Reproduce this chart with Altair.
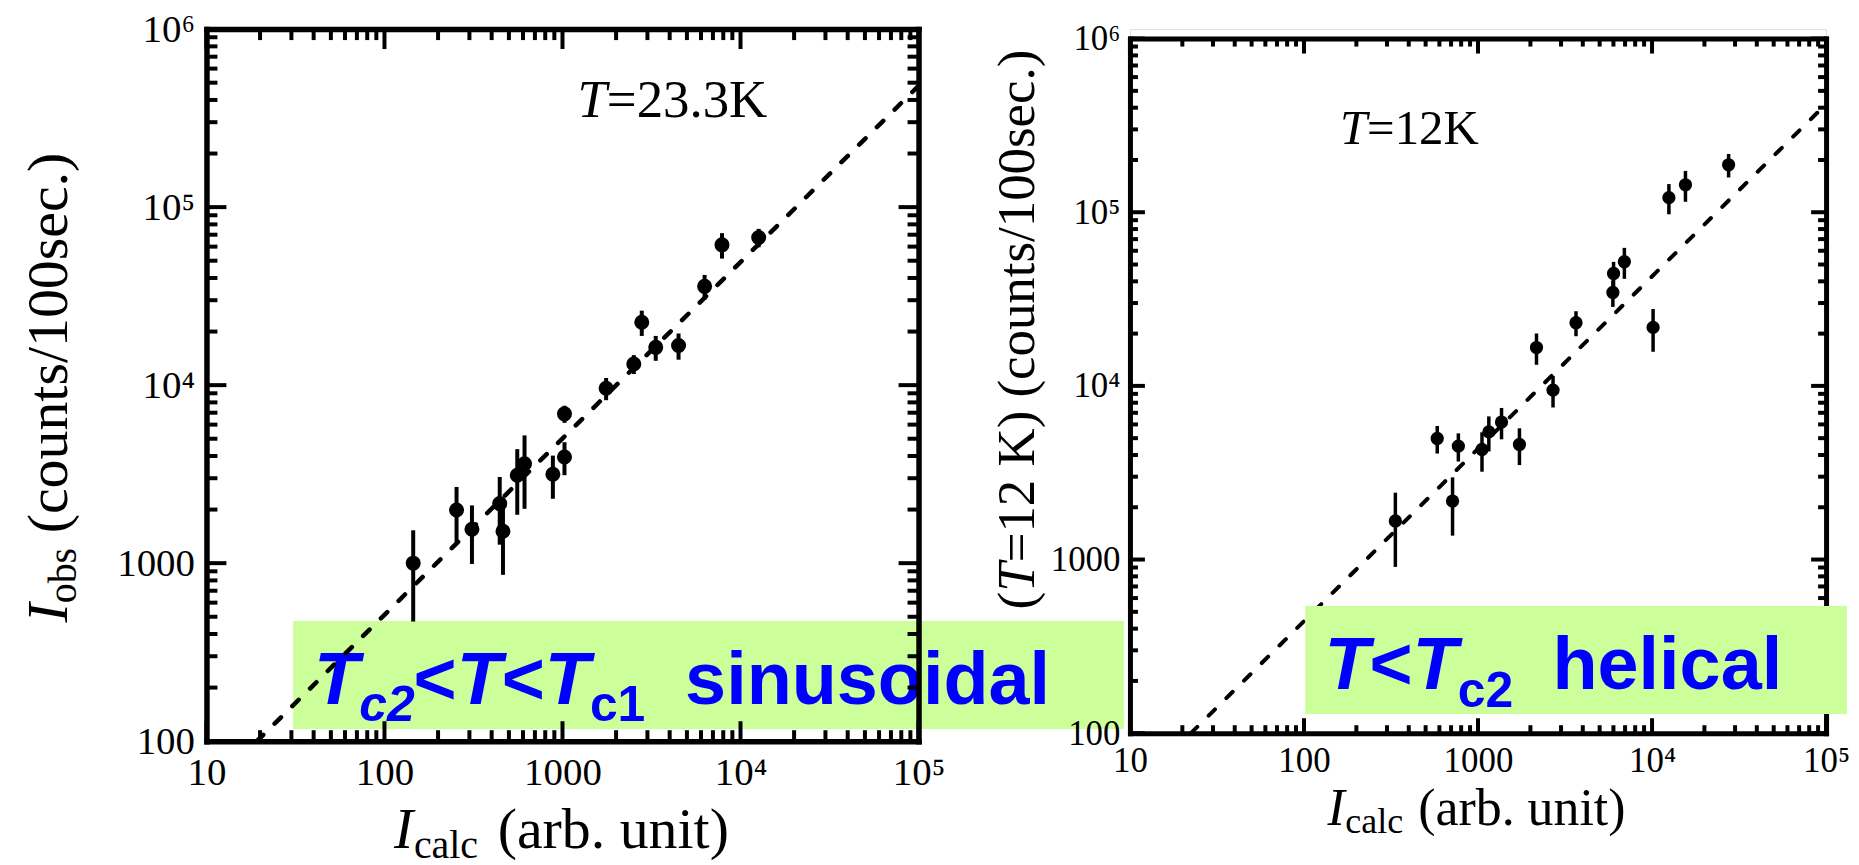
import altair as alt
import pandas as pd

SERIF = "Liberation Serif"
SANS = "Liberation Sans"

# ---------------- data ----------------
# left panel, T = 23.3 K
left_icalc = [145, 254, 310, 444, 463, 557, 612, 883, 1026, 1026,
              1758, 2515, 2788, 3340, 4487, 6285, 7870, 12650]
left_iobs = [1000, 1990, 1550, 2160, 1510, 3120, 3620, 3160, 3950, 6900,
             9600, 13150, 22550, 16300, 16700, 35900, 61400, 67500]
left_err = [530, 690, 560, 890, 650, 1250, 1600, 860, 830, 760,
            1370, 1600, 3650, 2600, 2800, 5700, 10000, 8000]
left_fit_x = [19.2, 100000]
left_fit_y = [100, 480000]

# right panel, T = 12 K
right_icalc = [335, 583, 714, 771, 1054, 1154, 1365, 1730, 2168, 2698,
               3656, 5956, 6010, 6934, 10140, 12500, 15560, 27540]
right_iobs = [1667, 4978, 2173, 4500, 4305, 5433, 6194, 4600, 16630, 9460,
              23120, 34500, 44380, 51860, 21720, 121300, 143900, 187600]
right_err = [760, 900, 800, 830, 1100, 1240, 1270, 1100, 3400, 1950,
             3800, 6000, 7400, 10500, 6000, 24000, 29000, 29000]
right_fit_x = [22.4, 100000]
right_fit_y = [100, 420000]

# axes
x_major = [10, 100, 1000, 10000, 100000]
x_major_labels = ["10", "100", "1000", "10\u2074", "10\u2075"]
y_major = [100, 1000, 10000, 100000, 1000000]
y_major_labels = ["100", "1000", "10\u2074", "10\u2075", "10\u2076"]
minor_steps = [2, 3, 4, 5, 6, 7, 8, 9]

# annotation boxes (data coordinates of each panel)
left_box_x = [30.7, 1.426e6]
left_box_y = [117, 473]
right_box_x = [101.6, 1.318e5]
right_box_y = [129, 540]
left_temp_anchor = [1213, 319000]
right_temp_anchor = [161, 246000]

# texts
left_temp_text = ["T", "=23.3K"]
right_temp_text = ["T", "=12K"]
left_phase_text = ["T", "c2", "<", "T", "<", "T", "c1", "sinusoidal"]
right_phase_text = ["T", "<", "T", "c2", "helical"]
left_ytitle = ["I", "obs", "(counts/100sec.)"]
right_ytitle = ["I", "obs", "(", "T", "=12 K) (counts/100sec.)"]
xtitle = ["I", "calc", "(arb. unit)"]

BOX_FILL = "#CCFF99"
BOX_TEXT = "#0000FF"

ONE = pd.DataFrame({"k": [0]})


def minor_ticks(major):
    out = []
    for m in major[:-1]:
        out += [m * k for k in minor_steps]
    return out


def label_expr(vals, labels):
    expr = "''"
    for v, s in reversed(list(zip(vals, labels))):
        expr = f"abs(datum.value / {v} - 1) < 0.01 ? '{s}' : ({expr})"
    return expr


def make_axes(g):
    W, H, top = g["W"], g["H"], g["top"]
    base = dict(grid=False, title=None, zindex=g["z"], domainColor="black",
                domainWidth=g["dw"], domainCap="square")
    ax = {}
    ax["xA"] = alt.Axis(orient="bottom", values=x_major, ticks=False, tickSize=0,
                        labels=True, labelExpr=label_expr(x_major, x_major_labels),
                        labelFont=SERIF, labelFontSize=g["lab"], labelColor="black",
                        labelPadding=g["xpad"], labelFlush=False, labelOverlap=False,
                        domain=True, **base)
    ax["yA"] = alt.Axis(orient="left", values=y_major, ticks=False, tickSize=0,
                        labels=True, labelExpr=label_expr(y_major, y_major_labels),
                        labelFont=SERIF, labelFontSize=g["lab"], labelColor="black",
                        labelPadding=g["ypad"], labelOverlap=False, domain=True, **base)
    # top and right frame lines
    ax["xC"] = alt.Axis(orient="bottom", offset=-(H - top), values=x_major, ticks=False,
                        labels=False, domain=True, **base)
    ax["yC"] = alt.Axis(orient="left", offset=-W, values=y_major, ticks=False,
                        labels=False, domain=True, **base)
    return ax


def tick_layers(xs, ys, g):
    """Inward frame ticks on all four sides, placed with the panel scales."""
    W, H, top = g["W"], g["H"], g["top"]
    rule = dict(color="black", strokeWidth=g["tw"])
    layers = []
    for vx, vy, L in ((x_major, y_major, g["maj"]),
                      (minor_ticks(x_major), minor_ticks(y_major), g["min"])):
        dfx = pd.DataFrame({"v": vx})
        dfy = pd.DataFrame({"v": vy})
        xenc = alt.X("v:Q", scale=xs, axis=None)
        yenc = alt.Y("v:Q", scale=ys, axis=None)
        layers.append(alt.Chart(dfx).mark_rule(**rule).encode(
            x=xenc, y=alt.value(H), y2=alt.value(H - L)))
        layers.append(alt.Chart(dfx).mark_rule(**rule).encode(
            x=xenc, y=alt.value(top), y2=alt.value(top + L)))
        layers.append(alt.Chart(dfy).mark_rule(**rule).encode(
            y=yenc, x=alt.value(0), x2=alt.value(L)))
        layers.append(alt.Chart(dfy).mark_rule(**rule).encode(
            y=yenc, x=alt.value(W), x2=alt.value(W - L)))
    return layers


def px_text(s, x, y, size, font=SERIF, style="normal", weight="normal", angle=0,
            color="black"):
    return alt.Chart(ONE).mark_text(
        text=s, font=font, fontSize=size, fontStyle=style, fontWeight=weight,
        angle=angle, align="left", baseline="alphabetic", color=color
    ).encode(x=alt.value(x), y=alt.value(y))


def data_text(anchor, s, dx, dy, size, xs, ys, font=SANS, style="normal",
              weight="normal", color="black"):
    df = pd.DataFrame({"ax": [anchor[0]], "ay": [anchor[1]]})
    return alt.Chart(df).mark_text(
        text=s, font=font, fontSize=size, fontStyle=style, fontWeight=weight,
        align="left", baseline="alphabetic", color=color, dx=dx, dy=dy
    ).encode(x=alt.X("ax:Q", scale=xs, axis=None),
             y=alt.Y("ay:Q", scale=ys, axis=None))


def data_layers(icalc, iobs, err, fit_x, fit_y, xs, ys, ax, g):
    df = pd.DataFrame({"icalc": icalc, "iobs": iobs, "err": err})
    df["lo"] = df["iobs"] - df["err"]
    df["hi"] = df["iobs"] + df["err"]
    fit = pd.DataFrame({"fx": fit_x, "fy": fit_y})
    line = alt.Chart(fit).mark_line(
        color="black", strokeWidth=g["lw"], strokeDash=[9, 16], strokeCap="round"
    ).encode(x=alt.X("fx:Q", scale=xs, axis=ax["xC"]),
             y=alt.Y("fy:Q", scale=ys, axis=ax["yC"]))
    bars = alt.Chart(df).mark_rule(color="black", strokeWidth=g["ew"]).encode(
        x=alt.X("icalc:Q", scale=xs, axis=None),
        y=alt.Y("lo:Q", scale=ys, axis=None), y2="hi:Q")
    pts = alt.Chart(df).mark_circle(color="black", opacity=1, size=g["ps"]).encode(
        x=alt.X("icalc:Q", scale=xs, axis=ax["xA"]),
        y=alt.Y("iobs:Q", scale=ys, axis=ax["yA"]))
    return [line, bars, pts]


def box(bx, by, xs, ys):
    df = pd.DataFrame({"x0": [bx[0]], "x1": [bx[1]], "y0": [by[0]], "y1": [by[1]]})
    return alt.Chart(df).mark_rect(color=BOX_FILL, opacity=1).encode(
        x=alt.X("x0:Q", scale=xs, axis=None), x2="x1:Q",
        y=alt.Y("y0:Q", scale=ys, axis=None), y2="y1:Q")


# ---------------- left panel ----------------
gL = dict(W=714, H=714, top=0, maj=20, min=11, tw=4, dw=5.5, z=1, lab=39,
          xpad=12, ypad=12, lw=4.5, ew=4, ps=227)
xsL = alt.Scale(type="log", domain=[10, 100000], nice=False)
ysL = alt.Scale(type="log", domain=[100, 1000000], nice=False, range=[714, 0])
axL = make_axes(gL)

L_main, L_sub = -25.3, -7.6
left_phase_dx = [21, 66.2, 120.7, 163.9, 209.1, 252.3, 297.5, 393]
left_phase_style = ["italic", "italic", "normal", "italic", "normal", "italic", "normal", "normal"]
left_phase_sub = [False, True, False, False, False, False, True, False]
anchorL = [left_box_x[0], left_box_y[0]]

left_layers = [
    # y-title of the right panel (its lower end sits under the left box)
    px_text(right_ytitle[0], 830, 662.7, 53, style="italic", angle=270),
    px_text(right_ytitle[1], 838, 645.1, 36, angle=270),
    px_text(right_ytitle[2], 830, 581.9, 53, angle=270),
    px_text(right_ytitle[3], 830, 564.2, 53, style="italic", angle=270),
    px_text(right_ytitle[4], 830, 534.7, 53, angle=270),
    # own titles
    px_text(left_ytitle[0], -140, 595, 58, style="italic", angle=270),
    px_text(left_ytitle[1], -131, 575.7, 40, angle=270),
    px_text(left_ytitle[2], -140, 505.6, 58, angle=270),
    px_text(xtitle[0], 188, 821.5, 58, style="italic"),
    px_text(xtitle[1], 208, 831.5, 40),
    px_text(xtitle[2], 292, 821.5, 58),
    box(left_box_x, left_box_y, xsL, ysL),
]
for s, dx, st, sub in zip(left_phase_text, left_phase_dx, left_phase_style, left_phase_sub):
    left_layers.append(data_text(anchorL, s, dx, L_sub if sub else L_main,
                                 50 if sub else 74, xsL, ysL, font=SANS, style=st,
                                 weight="bold", color=BOX_TEXT))
left_layers.append(data_text(left_temp_anchor, left_temp_text[0], 0, 0, 53, xsL, ysL,
                             font=SERIF, style="italic"))
left_layers.append(data_text(left_temp_anchor, left_temp_text[1], 29.5, 0, 53, xsL, ysL,
                             font=SERIF))
left_layers += tick_layers(xsL, ysL, gL)
left_layers += data_layers(left_icalc, left_iobs, left_err, left_fit_x, left_fit_y,
                           xsL, ysL, axL, gL)

left = alt.layer(*left_layers).resolve_axis(x="independent", y="independent").properties(
    width=714, height=714)

# ---------------- right panel ----------------
gR = dict(W=698, H=706, top=9.5, maj=15, min=8, tw=4, dw=5, z=0, lab=35,
          xpad=10, ypad=10, lw=4, ew=3.5, ps=177)
xsR = alt.Scale(type="log", domain=[10, 100000], nice=False)
ysR = alt.Scale(type="log", domain=[100, 1000000], nice=False, range=[706, 9.5])
axR = make_axes(gR)

R_main, R_sub = -25, -7.3
right_phase_dx = [19.3, 64.5, 107.7, 152.9, 248]
right_phase_style = ["italic", "normal", "italic", "normal", "normal"]
right_phase_sub = [False, False, False, True, False]
anchorR = [right_box_x[0], right_box_y[0]]

right_layers = [
    px_text(xtitle[0], 198, 798.5, 52, style="italic"),
    px_text(xtitle[1], 216, 806.5, 36),
    px_text(xtitle[2], 289, 798.5, 52),
    data_text(right_temp_anchor, right_temp_text[0], 0, 0, 49, xsR, ysR, font=SERIF,
              style="italic"),
    data_text(right_temp_anchor, right_temp_text[1], 27.2, 0, 49, xsR, ysR, font=SERIF),
]
right_layers += tick_layers(xsR, ysR, gR)
right_layers += data_layers(right_icalc, right_iobs, right_err, right_fit_x, right_fit_y,
                            xsR, ysR, axR, gR)
right_layers.append(box(right_box_x, right_box_y, xsR, ysR))
for s, dx, st, sub in zip(right_phase_text, right_phase_dx, right_phase_style, right_phase_sub):
    right_layers.append(data_text(anchorR, s, dx, R_sub if sub else R_main,
                                  50 if sub else 74, xsR, ysR, font=SANS, style=st,
                                  weight="bold", color=BOX_TEXT))

right = alt.layer(*right_layers).resolve_axis(x="independent", y="independent").properties(
    width=698, height=706)

chart = alt.hconcat(left, right, spacing=212, bounds="flush").properties(
    padding={"left": 12, "top": 0, "right": 0, "bottom": 0}
).configure_view(stroke=None).configure(background="white")

chart.save("out.html", embed_options={"renderer": "svg", "actions": False})
